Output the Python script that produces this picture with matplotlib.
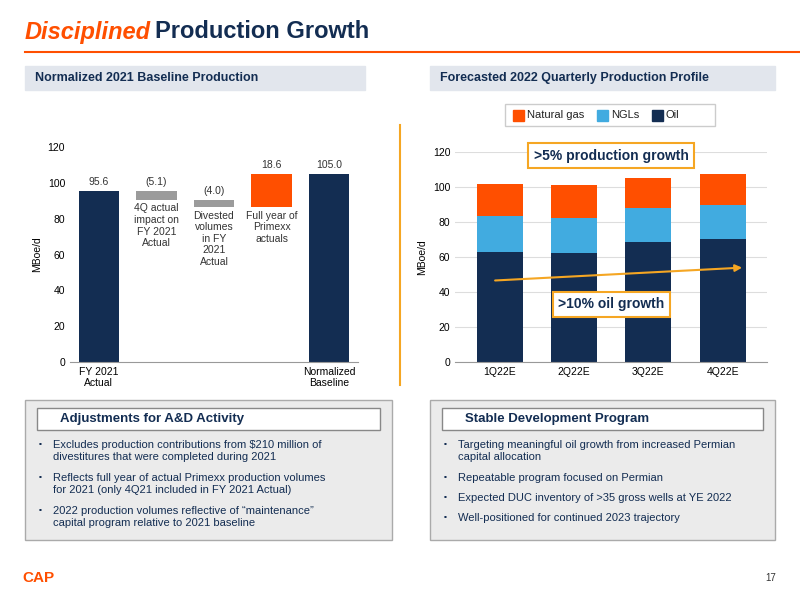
import matplotlib.pyplot as plt
from matplotlib.patches import Rectangle, FancyArrowPatch

NAVY = '#132d52'
ORANGE = '#ff4f00'
BLUE = '#41abe0'
GREY = '#9b9b9b'

# left waterfall data
wf_labels = ['FY 2021\nActual', '', '', '', 'Normalized\nBaseline']
wf_changes = [95.6, -5.1, -4.0, 18.6, 105.0]
wf_notes = ['', '4Q actual\nimpact on\nFY 2021\nActual', 'Divested\nvolumes\nin FY\n2021\nActual',
            'Full year of\nPrimexx\nactuals', '']
wf_text = ['95.6', '(5.1)', '(4.0)', '18.6', '105.0']

# right stacked data
quarters = ['1Q22E', '2Q22E', '3Q22E', '4Q22E']
oil = [63.0, 62.5, 68.5, 70.5]
ngl = [20.5, 20.0, 19.5, 19.5]
gas = [18.0, 18.5, 17.0, 17.5]

fig = plt.figure(figsize=(8, 6), dpi=100)
plt.rcParams['font.family'] = ['Liberation Sans', 'DejaVu Sans']

def px(x, y):
    return x / 800, 1 - y / 600

# title
fig.text(*px(25, 32), 'Disciplined', color=ORANGE, fontsize=17, fontweight='bold', style='italic', va='center')
fig.text(*px(155, 32), 'Production Growth', color=NAVY, fontsize=17, fontweight='bold', va='center')
fig.add_artist(plt.Line2D([25/800, 1], [1-52/600]*2, color=ORANGE, lw=1.5))

# section headers
for x0, x1, t in [(25, 365, 'Normalized 2021 Baseline Production'), (430, 775, 'Forecasted 2022 Quarterly Production Profile')]:
    fig.add_artist(Rectangle(px(x0, 90), (x1-x0)/800, 24/600, color='#e2e6ed', transform=fig.transFigure))
    fig.text(*px(x0+10, 78), t, color=NAVY, fontsize=9, fontweight='bold', va='center')

# left waterfall
ax1 = fig.add_axes([0.0875, 1-362/600, 0.36, 215/600])
bottoms, heights, colors = [], [], []
level = 0
for i, c in enumerate(wf_changes):
    if i == 0 or i == len(wf_changes) - 1:
        bottoms.append(0); heights.append(c); colors.append(NAVY); level = c
    elif c < 0:
        bottoms.append(level + c); heights.append(-c); colors.append(GREY); level += c
    else:
        bottoms.append(level); heights.append(c); colors.append(ORANGE); level += c
x = range(len(wf_changes))
ax1.bar(x, heights, bottom=bottoms, color=colors, width=0.7)
for i in x:
    ax1.text(i, bottoms[i] + heights[i] + 2, wf_text[i], ha='center', va='bottom', fontsize=7.5, color='#333333')
    if wf_notes[i]:
        ax1.text(i, bottoms[i] - 2, wf_notes[i], ha='center', va='top', fontsize=7.5, color='#333333')
ax1.set_ylim(0, 120)
ax1.set_xlim(-0.5, 4.5)
ax1.set_xticks(list(x), wf_labels, fontsize=7.5)
ax1.set_yticks(range(0, 121, 20))
ax1.tick_params(labelsize=7.5, length=0)
ax1.set_ylabel('MBoe/d', fontsize=7.5)
for s in ['top', 'right', 'left']:
    ax1.spines[s].set_visible(False)
ax1.spines['bottom'].set_color('#999999')

# divider
fig.add_artist(plt.Line2D([400/800]*2, [1-125/600, 1-385/600], color='#f5a623', lw=1.5))

# right stacked
ax2 = fig.add_axes([0.569, 1-362/600, 0.39, 210/600])
xq = range(len(quarters))
ax2.bar(xq, oil, color=NAVY, width=0.62)
ax2.bar(xq, ngl, bottom=oil, color=BLUE, width=0.62)
ax2.bar(xq, gas, bottom=[o + n for o, n in zip(oil, ngl)], color=ORANGE, width=0.62)
ax2.set_ylim(0, 120)
ax2.set_xlim(-0.6, 3.6)
ax2.set_xticks(list(xq), quarters, fontsize=7.5)
ax2.set_yticks(range(0, 121, 20))
ax2.yaxis.grid(True, color='#dddddd', lw=0.8)
ax2.set_axisbelow(True)
ax2.tick_params(labelsize=7.5, length=0)
ax2.set_ylabel('MBoe/d', fontsize=7.5)
for s in ['top', 'right', 'left']:
    ax2.spines[s].set_visible(False)
ax2.spines['bottom'].set_color('#999999')
ax2.add_patch(FancyArrowPatch((-0.1, 46.5), (3.3, 54), arrowstyle='-|>', mutation_scale=10, color='#f5a623', lw=1.5))
box = dict(boxstyle='square,pad=0.4', fc='white', ec='#f5a623', lw=1.5)
ax2.text(1.5, 118, '>5% production growth', ha='center', va='center', fontsize=10, fontweight='bold', color=NAVY, bbox=box)
ax2.text(1.5, 33, '>10% oil growth', ha='center', va='center', fontsize=10, fontweight='bold', color=NAVY, bbox=box)

# legend
fig.add_artist(Rectangle(px(505, 126), 210/800, 22/600, fc='white', ec='#cccccc', transform=fig.transFigure))
for xx, col, lab in [(513, ORANGE, 'Natural gas'), (597, BLUE, 'NGLs'), (652, NAVY, 'Oil')]:
    fig.add_artist(Rectangle(px(xx, 121), 11/800, 11/600, color=col, transform=fig.transFigure))
    fig.text(*px(xx + 14, 115), lab, fontsize=8, va='center', color='#222222')

# bottom text boxes
def panel(x0, x1, title, bullets):
    fig.add_artist(Rectangle(px(x0, 540), (x1-x0)/800, 140/600, fc='#ebebeb', ec='#aaaaaa', transform=fig.transFigure))
    fig.add_artist(Rectangle(px(x0+12, 430), (x1-x0-24)/800, 22/600, fc='white', ec='#888888', transform=fig.transFigure))
    fig.text(*px(x0+35, 419), title, fontsize=9.5, fontweight='bold', color=NAVY, va='center')
    y = 440
    for b in bullets:
        fig.text(*px(x0+14, y), '\u25aa', fontsize=6, color=NAVY, va='top')
        fig.text(*px(x0+28, y), b, fontsize=8, color=NAVY, va='top', linespacing=1.3)
        y += 13 + 13 * b.count('\n') + 7

panel(25, 392, 'Adjustments for A&D Activity', [
    'Excludes production contributions from $210 million of\ndivestitures that were completed during 2021',
    'Reflects full year of actual Primexx production volumes\nfor 2021 (only 4Q21 included in FY 2021 Actual)',
    '2022 production volumes reflective of \u201cmaintenance\u201d\ncapital program relative to 2021 baseline'])
panel(430, 775, 'Stable Development Program', [
    'Targeting meaningful oil growth from increased Permian\ncapital allocation',
    'Repeatable program focused on Permian',
    'Expected DUC inventory of >35 gross wells at YE 2022',
    'Well-positioned for continued 2023 trajectory'])

fig.text(*px(22, 578), 'CAP', fontsize=11, fontweight='bold', color=ORANGE, va='center')
fig.text(*px(765, 578), '17', fontsize=7, color='#333333', va='center')

fig.savefig('out.png', dpi=100)
